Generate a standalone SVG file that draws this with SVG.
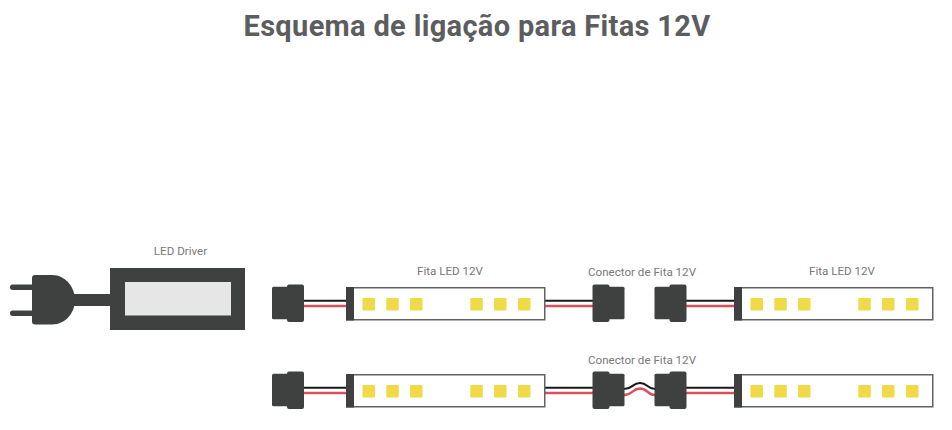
<svg xmlns="http://www.w3.org/2000/svg" xmlns:xlink="http://www.w3.org/1999/xlink" width="952" height="430" viewBox="0 0 952 430">
<style>
text{font-family:Roboto,"Liberation Sans",sans-serif}
.title{font-size:29px;font-weight:700;fill:#5c5d5f;text-anchor:middle;letter-spacing:0.33px}
.lbl{font-size:11.6px;fill:#77787a;text-anchor:middle}
.dark{fill:#3f4040}
.blk{stroke:#1a1a1a;stroke-width:2;fill:none}
.red{stroke:#d9505c;stroke-width:2.4;fill:none}
.led{fill:#f0da48}
</style>
<defs>
<g id="strip">
<rect x="0.75" y="0.75" width="198" height="32" fill="#fff" stroke="#616264" stroke-width="1.5"/>
<rect x="0" y="0" width="8" height="33.500" class="dark"/>
<rect class="led" x="16.500" y="11" width="12.500" height="12.500" rx="0.8"/>
<rect class="led" x="40.300" y="11" width="12.500" height="12.500" rx="0.8"/>
<rect class="led" x="64" y="11" width="12.500" height="12.500" rx="0.8"/>
<rect class="led" x="124.300" y="11" width="12.500" height="12.500" rx="0.8"/>
<rect class="led" x="148" y="11" width="12.500" height="12.500" rx="0.8"/>
<rect class="led" x="172" y="11" width="12.500" height="12.500" rx="0.8"/>
</g>
<g id="conR">
<rect x="0" y="2.700" width="20" height="32.500" rx="1.500" class="dark"/>
<rect x="15" y="0.500" width="17" height="37.500" rx="2" class="dark"/>
</g>
<g id="conL">
<rect x="12" y="2.700" width="20" height="32.500" rx="1.500" class="dark"/>
<rect x="0" y="0.500" width="17" height="37.500" rx="2" class="dark"/>
</g>
</defs>
<text class="title" x="477" y="35.800">Esquema de ligação para Fitas 12V</text>

<g id="connectors">
<rect x="72" y="294" width="40" height="12" class="dark"/>
<path class="blk" d="M304 300.700H347M545 300.700H594M686 300.700H735M304 387.700H347M545 387.700H594M686 387.700H735"/>
<path class="red" d="M304 306H347M545 306H594M686 306H735M304 393H347M545 393H594M686 393H735"/>
<path class="blk" d="M624 389C633 389 632 383 640 383C648 383 647 389 655 389"/>
<path class="red" d="M624 395C633 395 632 388.500 640 388.500C648 388.500 647 395 655 395"/>
</g>

<g id="plug">
<rect x="10" y="284.500" width="24" height="5.500" rx="2.700" class="dark"/>
<rect x="10" y="310.500" width="24" height="5.500" rx="2.700" class="dark"/>
<path class="dark" d="M35 275H52C66 275 75 288 75 300C75 312 66 324.500 52 324.500H35Q32 324.500 32 321.500V278Q32 275 35 275Z"/>
</g>

<g id="driver">
<rect x="110" y="268" width="135" height="62" class="dark"/>
<rect x="125" y="282" width="106" height="33.500" fill="#e6e6e6"/>
<text class="lbl" x="180.500" y="255">LED Driver</text>
</g>

<g id="con-a1"><use xlink:href="#conR" href="#conR" x="272" y="284"/></g>
<g id="strip-a1"><use xlink:href="#strip" href="#strip" x="346" y="287"/><text class="lbl" x="450" y="275">Fita LED 12V</text></g>
<g id="con-a2"><use xlink:href="#conL" href="#conL" x="592.500" y="284"/></g>
<g id="con-a3"><use xlink:href="#conR" href="#conR" x="654.500" y="284"/></g>
<text id="label-a" class="lbl" x="642" y="276">Conector de Fita 12V</text>
<g id="strip-a2"><use xlink:href="#strip" href="#strip" x="734" y="287"/><text class="lbl" x="842" y="275">Fita LED 12V</text></g>

<g id="con-b1"><use xlink:href="#conR" href="#conR" x="272" y="371"/></g>
<g id="strip-b1"><use xlink:href="#strip" href="#strip" x="346" y="374"/></g>
<g id="con-b2"><use xlink:href="#conL" href="#conL" x="592.500" y="371"/></g>
<g id="con-b3"><use xlink:href="#conR" href="#conR" x="654.500" y="371"/></g>
<text id="label-b" class="lbl" x="642" y="364">Conector de Fita 12V</text>
<g id="strip-b2"><use xlink:href="#strip" href="#strip" x="734" y="374"/></g>
</svg>
